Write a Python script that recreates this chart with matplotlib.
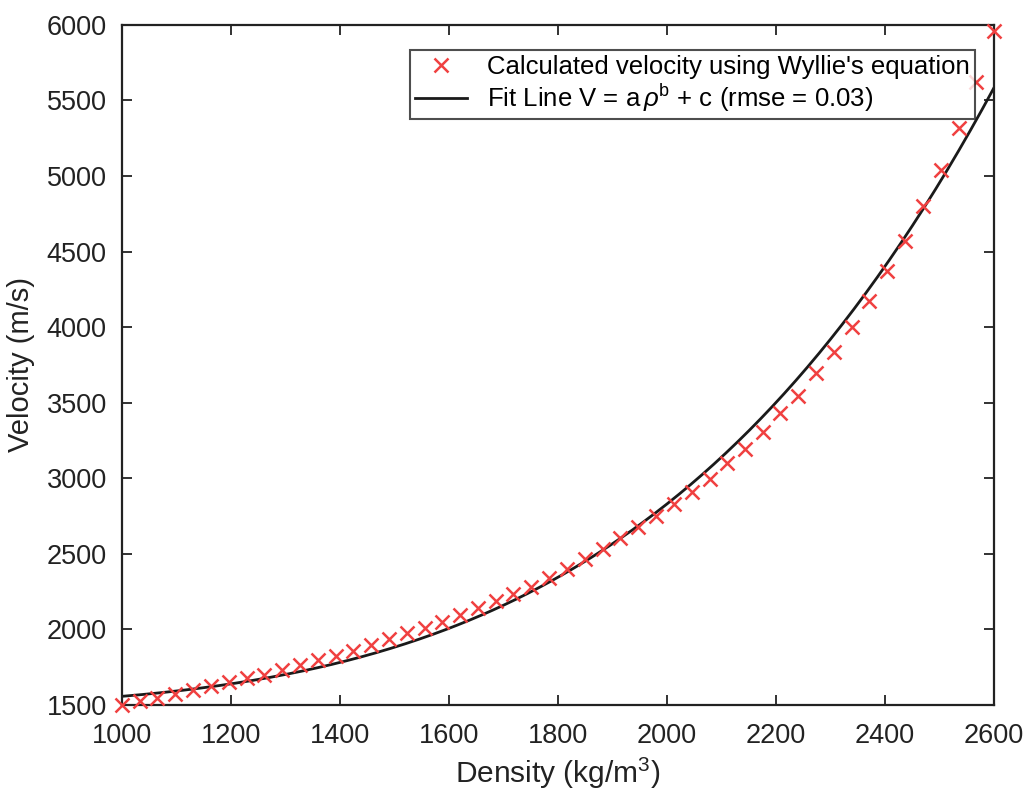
import numpy as np
import matplotlib
matplotlib.use("Agg")
import matplotlib.pyplot as plt

plt.rcParams['font.family'] = ['Liberation Sans', 'DejaVu Sans']
plt.rcParams['mathtext.fontset'] = 'custom'
plt.rcParams['mathtext.rm'] = 'Liberation Sans'
plt.rcParams['mathtext.it'] = 'Liberation Sans:italic'

# Calculated velocity (Wyllie)
density = [1000, 1033, 1065, 1098, 1131, 1163, 1196, 1229, 1261, 1294,
           1327, 1359, 1392, 1424, 1457, 1490, 1522, 1555, 1588, 1620,
           1653, 1686, 1718, 1751, 1784, 1816, 1849, 1882, 1914, 1947,
           1980, 2012, 2045, 2078, 2110, 2143, 2176, 2208, 2241, 2273,
           2306, 2339, 2371, 2404, 2437, 2469, 2502, 2535, 2567, 2600]
velocity = [1500, 1525, 1548, 1574, 1600, 1623, 1650, 1676, 1700, 1735,
            1763, 1798, 1825, 1860, 1898, 1935, 1974, 2012, 2052, 2098,
            2145, 2191, 2237, 2284, 2337, 2397, 2463, 2530, 2605, 2675,
            2752, 2828, 2908, 2994, 3100, 3193, 3306, 3432, 3545, 3697,
            3837, 4003, 4175, 4368, 4567, 4799, 5040, 5320, 5620, 5960]

# Fit line V = a*rho^b + c (rho in units of 1000 kg/m^3)
fit_a = 70.6
fit_b = 4.25
fit_c = 1487.0

xticks = [1000, 1200, 1400, 1600, 1800, 2000, 2200, 2400, 2600]
yticks = [1500, 2000, 2500, 3000, 3500, 4000, 4500, 5000, 5500, 6000]

fig = plt.figure(figsize=(10.29, 7.98), dpi=100)
ax = fig.add_axes([0.1186, 0.1165, 0.8474, 0.8525])

ax.plot(density, velocity, linestyle='none', marker='x', color='#f04040',
        markersize=10, markeredgewidth=1.8,
        label="Calculated velocity using Wyllie's equation", clip_on=False, zorder=3)
rho = np.linspace(density[0], density[-1], 300)
ax.plot(rho, fit_a * (rho / 1000.0) ** fit_b + fit_c, color='#1a1a1a', lw=2.0,
        label=r'Fit Line V = a$\,\it{\rho}^{\rm b}$ + c (rmse = 0.03)', zorder=2)

ax.set_xlim(1000, 2600)
ax.set_ylim(1500, 6000)
ax.set_xticks(xticks)
ax.set_yticks(yticks)
ax.tick_params(direction='in', top=True, right=True, length=7, width=1.3,
               labelsize=19.5, colors='#222222')
ax.tick_params(axis='x', pad=13)
ax.tick_params(axis='y', pad=11)
for s in ax.spines.values():
    s.set_linewidth(1.6)
    s.set_color('#222222')

ax.set_xlabel(r'Density (kg/m$^{\rm 3}$)', fontsize=21.5, color='#222222', labelpad=5)
ax.set_ylabel('Velocity (m/s)', fontsize=21, color='#222222', labelpad=8)

leg = ax.legend(loc='upper right', bbox_to_anchor=(0.9785, 0.963), fontsize=18.5,
                frameon=True, fancybox=False, edgecolor='#222222',
                handlelength=2.0, handletextpad=0.8, borderpad=0.2,
                labelspacing=0.1, borderaxespad=0)
leg.get_frame().set_linewidth(1.5)

fig.savefig('out.png', dpi=100)
